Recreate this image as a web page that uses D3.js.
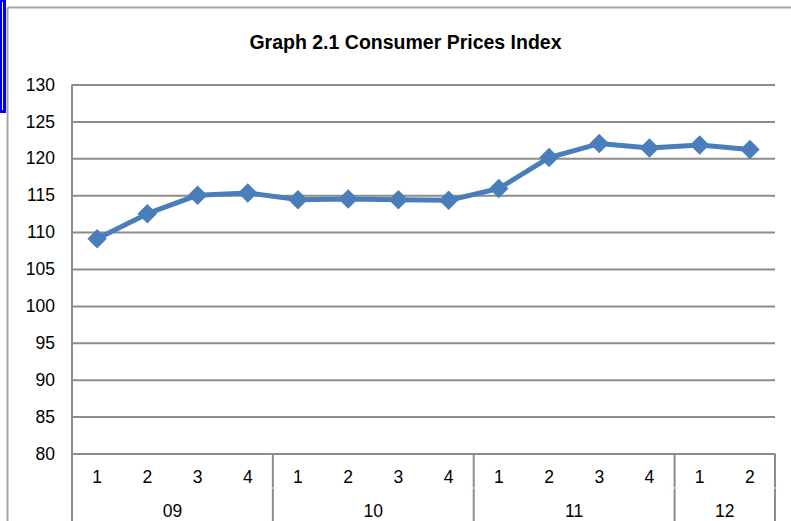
<!DOCTYPE html>
<html><head><meta charset="utf-8">
<script src="https://cdn.jsdelivr.net/npm/d3@7/dist/d3.min.js"></script>
<style>
html,body{margin:0;padding:0;background:#fff;}
svg{display:block;font-family:"Liberation Sans",Arial,sans-serif;}
</style></head>
<body>
<svg id="chart" width="791" height="521"></svg>
<script>
const title = "Graph 2.1 Consumer Prices Index";
const years = ["09","10","11","12"];
const quarters = ["1","2","3","4","1","2","3","4","1","2","3","4","1","2"];
const yearOfPoint = ["09","09","09","09","10","10","10","10","11","11","11","11","12","12"];
const values = [109.1, 112.5, 115.0, 115.3, 114.4, 114.5, 114.4, 114.3, 115.9, 120.1, 122.0, 121.4, 121.8, 121.2];
const yTicks = [80, 85, 90, 95, 100, 105, 110, 115, 120, 125, 130];

const svg = d3.select("#chart");
const W = 791, H = 521;
const m = {left: 72, right: 775, top: 84.5, bottom: 453.5};
const FS = "17.5px";

// outer frame
svg.append("rect").attr("x", 0.5).attr("y", 0.5).attr("width", 4).attr("height", 111)
  .attr("fill", "none").attr("stroke", "#0000ff").attr("stroke-width", 3);
svg.append("line").attr("x1", 7.5).attr("x2", 7.5).attr("y1", 7.5).attr("y2", H)
  .attr("stroke", "#a6a6a6").attr("stroke-width", 2);
svg.append("line").attr("x1", 7.5).attr("x2", W).attr("y1", 7.5).attr("y2", 7.5)
  .attr("stroke", "#a6a6a6").attr("stroke-width", 2);

svg.append("text").attr("x", 405.5).attr("y", 49).attr("text-anchor", "middle")
  .attr("font-weight", "bold").attr("font-size", "19.5px").attr("fill", "#000").text(title);

const idx = d3.range(values.length);
const x = d3.scaleBand().domain(idx).range([m.left, m.right]).paddingInner(0).paddingOuter(0);
const y = d3.scaleLinear().domain([80, 130]).range([m.bottom, m.top]);

// gridlines
const yAxis = d3.axisLeft(y).tickValues(yTicks).tickSize(-(m.right - m.left)).tickPadding(17);
const gy = svg.append("g").attr("transform", `translate(${m.left},0)`).call(yAxis);
gy.attr("font-size", null).attr("font-family", null);
gy.select(".domain").remove();
gy.selectAll(".tick line").attr("stroke", "#8c8c8c").attr("stroke-width", 2);
gy.selectAll(".tick text").attr("font-size", FS).attr("fill", "#000");

// left axis line
svg.append("line").attr("x1", m.left).attr("x2", m.left).attr("y1", m.top).attr("y2", H)
  .attr("stroke", "#8c8c8c").attr("stroke-width", 2);

// quarter labels
svg.append("g").selectAll("text").data(quarters).join("text")
  .attr("x", (d, i) => x(i) + x.bandwidth() / 2).attr("y", 483)
  .attr("text-anchor", "middle").attr("font-size", FS).attr("fill", "#000").text(d => d);

// year groups
const groups = years.map(yr => {
  const ii = idx.filter(i => yearOfPoint[i] === yr);
  return {yr, start: x(ii[0]), end: x(ii[ii.length - 1]) + x.bandwidth()};
});
svg.append("g").selectAll("text").data(groups).join("text")
  .attr("x", g => (g.start + g.end) / 2).attr("y", 517)
  .attr("text-anchor", "middle").attr("font-size", FS).attr("fill", "#000").text(g => g.yr);
svg.append("g").selectAll("line").data(groups).join("line")
  .attr("x1", g => g.end).attr("x2", g => g.end).attr("y1", m.bottom).attr("y2", H)
  .attr("stroke", "#8c8c8c").attr("stroke-width", 2);
// faint separator between rows
svg.append("g").selectAll("line").data(groups).join("line")
  .attr("x1", g => g.end - 4).attr("x2", g => g.end + 4).attr("y1", 488).attr("y2", 488)
  .attr("stroke", "#ececec").attr("stroke-width", 1);

// series line
const line = d3.line().x((d, i) => x(i) + x.bandwidth() / 2).y(d => y(d));
svg.append("path").datum(values).attr("d", line).attr("fill", "none")
  .attr("stroke", "#4a7ebb").attr("stroke-width", 5).attr("stroke-linejoin", "round");

const diamond = {draw(ctx, size) { const r = Math.sqrt(size) / 2;
  ctx.moveTo(0, -r); ctx.lineTo(r, 0); ctx.lineTo(0, r); ctx.lineTo(-r, 0); ctx.closePath(); }};
svg.append("g").selectAll("path").data(values).join("path")
  .attr("transform", (d, i) => `translate(${x(i) + x.bandwidth() / 2},${y(d)})`)
  .attr("d", d3.symbol().type(diamond).size(19.5 * 19.5))
  .attr("fill", "#4a7ebb");
</script>
</body></html>
